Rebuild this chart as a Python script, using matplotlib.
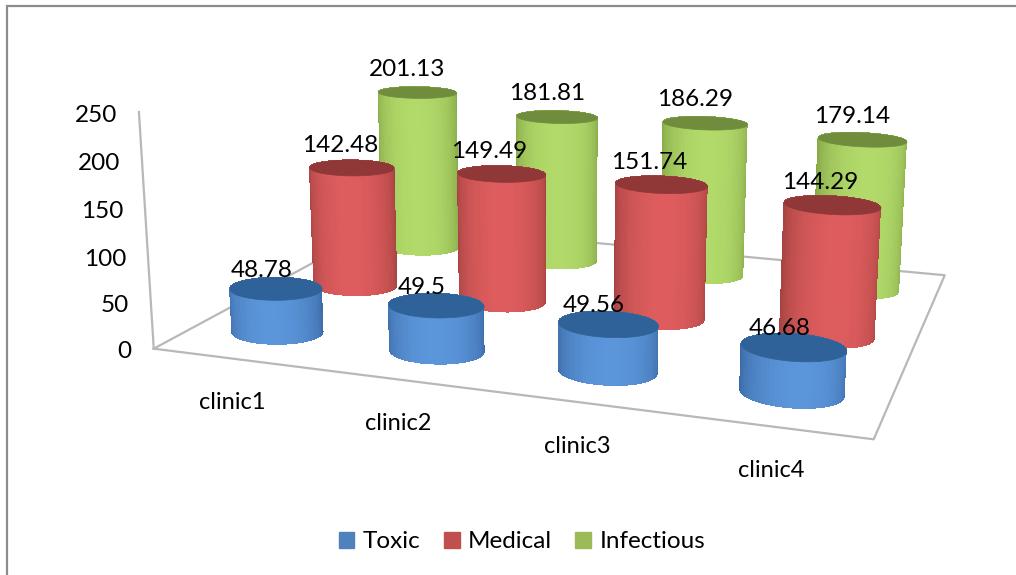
import numpy as np
import matplotlib
matplotlib.use('Agg')
import matplotlib.pyplot as plt
from matplotlib.patches import Patch, Rectangle
from mpl_toolkits.mplot3d import proj3d
from mpl_toolkits.mplot3d.art3d import Poly3DCollection

clinics = ['clinic1', 'clinic2', 'clinic3', 'clinic4']
series = ['Toxic', 'Medical', 'Infectious']
toxic = [48.78, 49.5, 49.56, 46.68]
medical = [142.48, 149.49, 151.74, 144.29]
infectious = [201.13, 181.81, 186.29, 179.14]
z_ticks = [0, 50, 100, 150, 200, 250]

# edge of side, middle of side, top ellipse, legend
colores = {
    'Toxic': ('#3b6ba6', '#5b95da', '#2f6298', '#4f81bd'),
    'Medical': ('#a44341', '#de5c5d', '#8f3837', '#c0504d'),
    'Infectious': ('#86a948', '#b2da6a', '#6f8d3c', '#9bbb59'),
}
# label offset in pixels from the top of each cylinder
offset_label = {'Toxic': (-14, 18), 'Medical': (-12, 22), 'Infectious': (-10, 23)}

plt.rcParams['font.family'] = ['Lato', 'DejaVu Sans']

ancho, alto = 1016, 575
fig = plt.figure(figsize=(ancho / 100, alto / 100), dpi=100)

# view found by fitting the floor corners of the reference
lado = 843.5
cx, cy = 568.4, 362.3
ax = fig.add_axes([(cx - lado / 2) / ancho, (cy - lado / 2) / alto, lado / ancho, lado / alto],
                  projection='3d', computed_zorder=False)
ax.set_xlim(0, 4)
ax.set_ylim(0, 3)
ax.set_zlim(0, 250)
ax.view_init(elev=13.65, azim=-71.13, roll=-0.2)
ax.set_proj_type('persp', focal_length=0.3511)
ax.set_box_aspect((1.6409, 1.2188, 0.5497))
ax.set_axis_off()
ax.patch.set_alpha(0)

# floor and wall
gris = '#b8b8b8'
ax.plot([0, 4, 4, 0, 0], [0, 0, 3, 3, 0], [0, 0, 0, 0, 0], color=gris, lw=1.6, zorder=1, clip_on=False)
ax.plot([0, 0], [0, 0], [0, 250], color=gris, lw=1.6, zorder=1, clip_on=False)


def mezcla(c1, c2, t):
    a = np.array(matplotlib.colors.to_rgb(c1))
    b = np.array(matplotlib.colors.to_rgb(c2))
    return a + (b - a) * t


def cilindro(x, y, h, cols, zo, r=0.27, ry=0.22):
    theta = np.linspace(0, 2 * np.pi, 73)
    tt, zz = np.meshgrid(theta, [0, h])
    xx = x + r * np.cos(tt)
    yy = y + ry * np.sin(tt)
    # brightness from the angle against the camera
    mid = (theta[:-1] + theta[1:]) / 2
    luz = np.clip(np.cos(mid - np.radians(-72)), 0, 1) ** 1.1
    fc = np.array([[*mezcla(cols[0], cols[1], t), 1.0] for t in luz])[None, :, :]
    ax.plot_surface(xx, yy, zz, facecolors=fc, rstride=1, cstride=1, shade=False,
                    linewidth=0, antialiased=False, zorder=zo)
    tapa = list(zip(x + r * np.cos(theta), y + ry * np.sin(theta), np.full(theta.size, h)))
    ax.add_collection3d(Poly3DCollection([tapa], facecolors=cols[2], edgecolors=cols[2],
                                         linewidths=0.5, zorder=zo + 0.5))


M = ax.get_proj()


def etiqueta(txt, x, y, z, dx, dy, size, ha='center'):
    x2, y2, _ = proj3d.proj_transform(x, y, z, M)
    ax.annotate(txt, (x2, y2), xytext=(dx * 0.72, dy * 0.72), textcoords='offset points',
                ha=ha, va='center', fontsize=size, color='black', zorder=50,
                annotation_clip=False)


valores = [toxic, medical, infectious]
for j in [2, 1, 0]:
    nombre = series[j]
    for i, v in enumerate(valores[j]):
        cilindro(i + 0.5, j + 0.5, v, colores[nombre], zo=10 + (2 - j) * 5 + i * 0.1)

for j in range(3):
    dx, dy = offset_label[series[j]]
    for i, v in enumerate(valores[j]):
        etiqueta(str(v), i + 0.5, j + 0.5, v, dx, dy, 17.5)

for z in z_ticks:
    etiqueta(str(z), 0, 0, z, -22, -3, 17.5, ha='right')

for i, c in enumerate(clinics):
    etiqueta(c, i + 0.5, 0, 0, 0, -44, 17)

fig.add_artist(Rectangle((7 / ancho, -0.01), 1.1, 1 - 6 / alto + 0.01, transform=fig.transFigure,
                         fill=False, edgecolor='#8c8c8c', lw=1.6))

handles = [Patch(color=colores[s][3], label=s) for s in series]
fig.legend(handles=handles, ncol=3, frameon=False, fontsize=17.5, loc='center',
           bbox_to_anchor=(522 / ancho, 1 - 542 / alto), handlelength=0.65, handleheight=0.65,
           handletextpad=0.35, columnspacing=0.95)

fig.savefig('out.png', dpi=100)
